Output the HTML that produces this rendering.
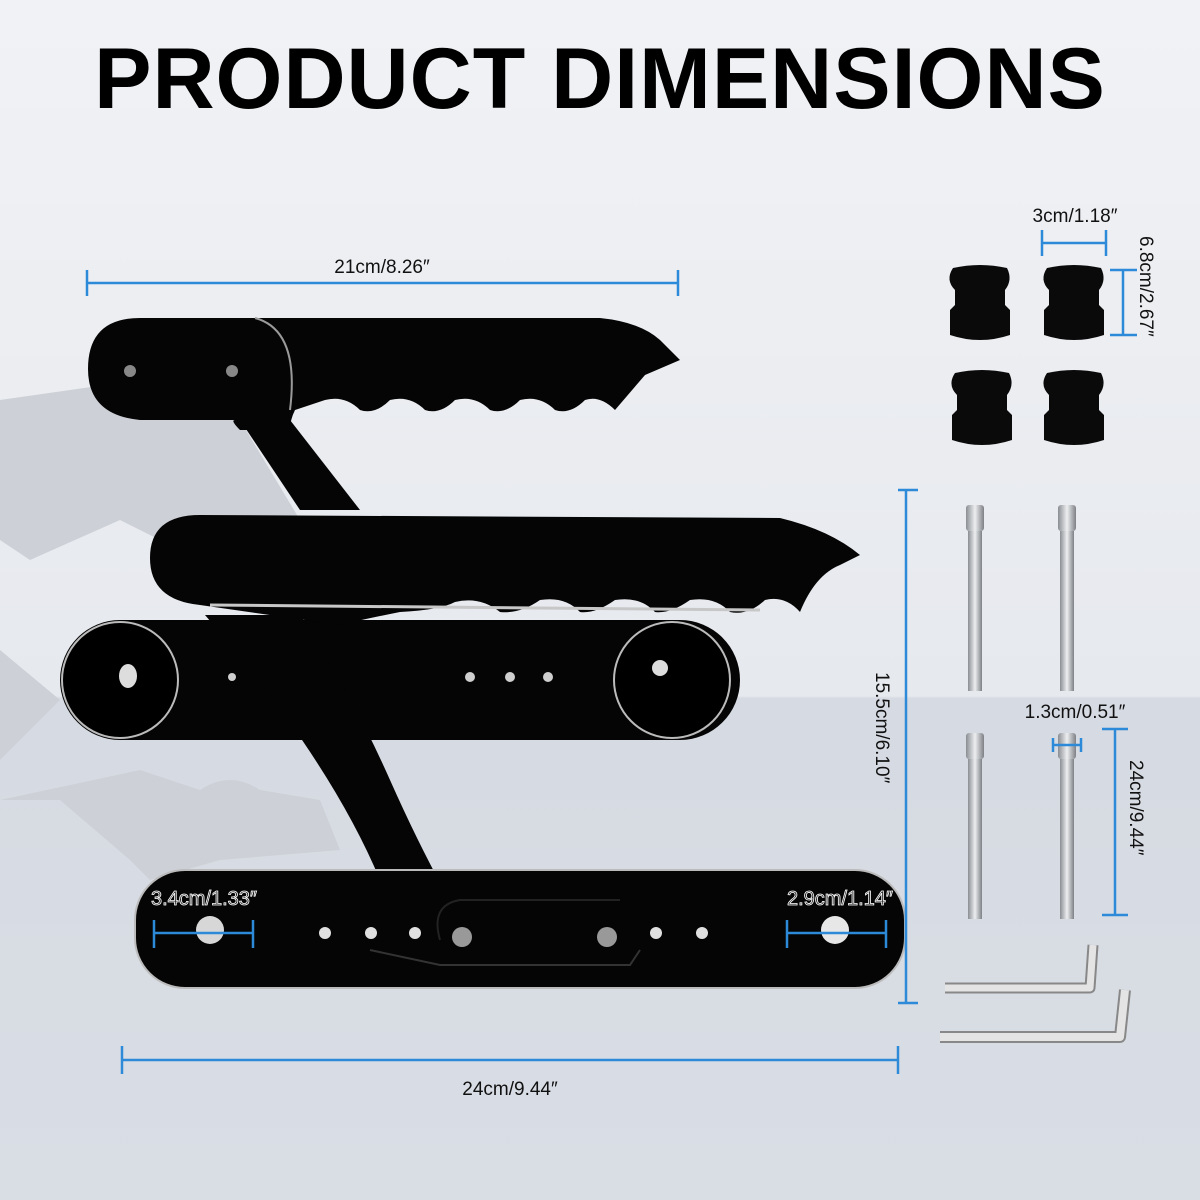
<!DOCTYPE html>
<html><head><meta charset="utf-8"><style>
html,body{margin:0;padding:0;width:1200px;height:1200px;overflow:hidden}
svg{display:block}
text{font-family:"Liberation Sans",sans-serif}
</style></head><body>
<svg width="1200" height="1200" viewBox="0 0 1200 1200" xmlns="http://www.w3.org/2000/svg">
<defs>
<linearGradient id="bg" x1="0" y1="0" x2="0" y2="1">
<stop offset="0" stop-color="#f1f2f5"/><stop offset="0.58" stop-color="#e6e9ee"/>
<stop offset="0.582" stop-color="#d6dae2"/><stop offset="1" stop-color="#d9dde4"/>
</linearGradient>
<linearGradient id="steel" x1="0" y1="0" x2="1" y2="0">
<stop offset="0" stop-color="#8a8d92"/><stop offset="0.5" stop-color="#eceef0"/><stop offset="1" stop-color="#7d8085"/>
</linearGradient>
</defs>
<rect width="1200" height="1200" fill="url(#bg)"/>
<!-- shadows -->
<g fill="#cdd0d6">
<path d="M0 400 L140 380 L240 420 L300 520 L200 560 L120 520 L30 560 L0 540Z"/>
<path d="M0 800 L140 770 L200 790 Q230 770 260 790 L320 800 L340 850 L220 860 L150 880 L130 860 L60 800Z"/>
<path d="M0 650 L60 700 L0 760Z"/>
</g>
<text x="600" y="108" text-anchor="middle" font-size="86" font-weight="bold" fill="#000" letter-spacing="1">PRODUCT DIMENSIONS</text>

<!-- top handle -->
<g fill="#050505">
<path d="M240 420 L300 510 L360 510 L290 420Z"/>
<path d="M140 318 L600 318 Q640 322 660 340 L680 360 L645 375 L615 410 Q600 395 585 400 Q570 415 555 410 Q540 395 520 400 Q505 415 490 410 Q475 395 455 400 Q440 415 425 410 Q410 395 390 400 Q375 415 360 410 Q345 395 325 400 L295 410 Q290 420 290 430 L240 430 Q230 420 235 420 L140 420 Q88 415 88 369 Q88 318 140 318Z"/>
</g>
<path d="M255 318 Q300 330 290 410" stroke="#9a9a9a" stroke-width="2" fill="none"/>
<circle cx="130" cy="371" r="6" fill="#888"/><circle cx="232" cy="371" r="6" fill="#888"/>

<!-- middle bar base -->
<rect x="60" y="620" width="680" height="120" rx="60" fill="#050505"/>
<circle cx="120" cy="680" r="58" fill="#000" stroke="#bbb" stroke-width="2"/>
<circle cx="672" cy="680" r="58" fill="#000" stroke="#bbb" stroke-width="2"/>
<ellipse cx="128" cy="676" rx="9" ry="12" fill="#ddd"/>
<circle cx="660" cy="668" r="8" fill="#ddd"/>
<g fill="#cfcfcf"><circle cx="510" cy="677" r="5"/><circle cx="548" cy="677" r="5"/><circle cx="470" cy="677" r="5"/><circle cx="232" cy="677" r="4"/></g>

<!-- middle handle -->
<path d="M200 515 L780 518 Q830 530 860 555 L840 565 Q815 575 800 612 Q785 595 765 600 Q748 616 730 612 Q715 596 690 600 Q670 614 655 612 Q640 596 615 600 Q595 614 580 612 Q565 596 540 600 Q520 614 500 612 Q480 596 455 602 Q440 610 400 612 Q360 620 340 625 L200 605 Q150 600 150 558 Q150 515 200 515Z" fill="#050505"/>
<path d="M210 605 L760 610" stroke="#c7c7c7" stroke-width="3"/>
<!-- diagonal arm -->
<path d="M205 615 L300 615 Q350 690 390 780 Q430 870 470 935 L440 955 Q400 940 380 880 Q330 760 205 615Z" fill="#050505"/>

<!-- bottom bar -->
<rect x="135" y="870" width="770" height="118" rx="50" fill="#050505" stroke="#bbb" stroke-width="2"/>
<path d="M370 950 L440 965 L630 965 L640 950" stroke="#333" stroke-width="2" fill="none"/>
<path d="M440 940 Q430 905 460 900 L620 900" fill="none" stroke="#222" stroke-width="2"/>
<ellipse cx="210" cy="930" rx="14" ry="14" fill="#d7d7d7"/>
<ellipse cx="835" cy="930" rx="14" ry="14" fill="#e7e7e7"/>
<g fill="#e0e0e0"><circle cx="325" cy="933" r="6"/><circle cx="371" cy="933" r="6"/><circle cx="415" cy="933" r="6"/><circle cx="656" cy="933" r="6"/><circle cx="702" cy="933" r="6"/></g>
<circle cx="462" cy="937" r="10" fill="#999"/><circle cx="607" cy="937" r="10" fill="#999"/>

<!-- spacers -->
<g fill="#0a0a0a">
<g id="sp"><path d="M953 268 Q980 262 1007 268 Q1013 280 1005 290 L1005 305 L1010 310 L1010 335 Q980 345 950 335 L950 310 L955 305 L955 290 Q945 280 953 268Z"/></g>
<use href="#sp" x="94"/><use href="#sp" x="2" y="105"/><use href="#sp" x="94" y="105"/>
</g>

<!-- bolts -->
<g id="bolt">
<rect x="966" y="505" width="18" height="26" rx="3" fill="url(#steel)"/>
<rect x="968" y="531" width="14" height="160" fill="url(#steel)"/>
</g>
<use href="#bolt" x="92"/><use href="#bolt" y="228"/><use href="#bolt" x="92" y="228"/>

<!-- allen keys -->
<path d="M945 988 L1090 988 L1093 945" stroke="#888" stroke-width="11" fill="none" stroke-linejoin="round"/>
<path d="M945 988 L1090 988 L1093 945" stroke="#e4e4e4" stroke-width="7" fill="none" stroke-linejoin="round"/>
<path d="M940 1037 L1120 1037 L1125 990" stroke="#888" stroke-width="12" fill="none" stroke-linejoin="round"/>
<path d="M940 1037 L1120 1037 L1125 990" stroke="#e4e4e4" stroke-width="8" fill="none" stroke-linejoin="round"/>

<!-- dimension lines -->
<g stroke="#2c8ad8" stroke-width="2.5" fill="none">
<path d="M87 283 L678 283 M87 270 L87 296 M678 270 L678 296"/>
<path d="M122 1060 L898 1060 M122 1046 L122 1074 M898 1046 L898 1074"/>
<path d="M906 490 L906 1003 M898 490 L918 490 M898 1003 L918 1003"/>
<path d="M1042 243 L1106 243 M1042 230 L1042 256 M1106 230 L1106 256"/>
<path d="M1123 270 L1123 335 M1110 270 L1137 270 M1110 335 L1137 335"/>
<path d="M1115 729 L1115 915 M1102 729 L1128 729 M1102 915 L1128 915"/>
<path d="M1053 745 L1081 745 M1053 738 L1053 752 M1081 738 L1081 752"/>
<path d="M154 933 L253 933 M154 920 L154 948 M253 920 L253 948"/>
<path d="M787 933 L886 933 M787 920 L787 948 M886 920 L886 948"/>
</g>
<g font-size="19" fill="#111">
<text x="382" y="273" text-anchor="middle">21cm/8.26″</text>
<text x="510" y="1095" text-anchor="middle">24cm/9.44″</text>
<text x="1075" y="222" text-anchor="middle">3cm/1.18″</text>
<text x="1075" y="718" text-anchor="middle">1.3cm/0.51″</text>
<text transform="translate(1140,236) rotate(90)">6.8cm/2.67″</text>
<text transform="translate(1130,760) rotate(90)">24cm/9.44″</text>
<text transform="translate(876,672) rotate(90)">15.5cm/6.10″</text>
</g>
<g font-size="20" fill="#222" stroke="#fff" stroke-width="0.8">
<text x="204" y="905" text-anchor="middle">3.4cm/1.33″</text>
<text x="840" y="905" text-anchor="middle">2.9cm/1.14″</text>
</g>
</svg>
</body></html>
